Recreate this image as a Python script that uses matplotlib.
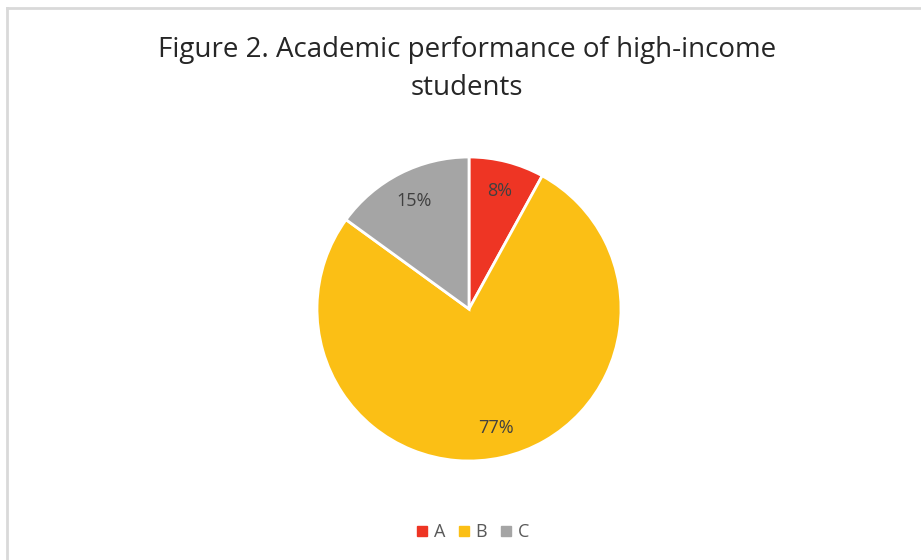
import matplotlib
matplotlib.use("Agg")
import matplotlib.pyplot as plt
from matplotlib.lines import Line2D

categories = ["A", "B", "C"]
values = [8, 77, 15]
colors = ["#EE3524", "#FBBF15", "#A5A5A5"]
title = "Figure 2. Academic performance of high-income\nstudents"

W, H = 921, 560
fig = plt.figure(figsize=(W / 100, H / 100), dpi=100)
fig.patch.set_facecolor("white")

# border lines (top and left)
fig.add_artist(Line2D([7 / W, 7 / W], [0, 1 - 8 / H], color="#D9D9D9", lw=2))
fig.add_artist(Line2D([7 / W, 1], [1 - 8 / H, 1 - 8 / H], color="#D9D9D9", lw=2))

cx, cy, r = 469, 309, 152
ax = fig.add_axes([(cx - r) / W, (H - cy - r) / H, 2 * r / W, 2 * r / H])
wedges, texts, autotexts = ax.pie(
    values, colors=colors, startangle=90, counterclock=False,
    autopct=lambda p: f"{p:.0f}%", pctdistance=0.8,
    wedgeprops=dict(edgecolor="white", linewidth=2),
    textprops=dict(color="#404040", fontsize=13, family="Open Sans"),
)
ax.set_xlim(-1, 1)
ax.set_ylim(-1, 1)
ax.set_aspect("equal")
ax.axis("off")

fig.text(467 / W, 1 - 69 / H, title, ha="center", va="center",
         fontsize=20, family="Open Sans", color="#262626", linespacing=1.45)

handles = [Line2D([], [], marker="s", linestyle="none", markersize=7,
                  markerfacecolor=c, markeredgecolor=c) for c in colors]
leg = fig.legend(handles, categories, loc="center", bbox_to_anchor=(471 / W, 1 - 532 / H),
                 ncol=3, frameon=False, handletextpad=0.15, columnspacing=0.55,
                 handlelength=1.0,
                 prop=dict(family="Open Sans", size=13))
for t in leg.get_texts():
    t.set_color("#595959")

fig.savefig("out.png", dpi=100)
